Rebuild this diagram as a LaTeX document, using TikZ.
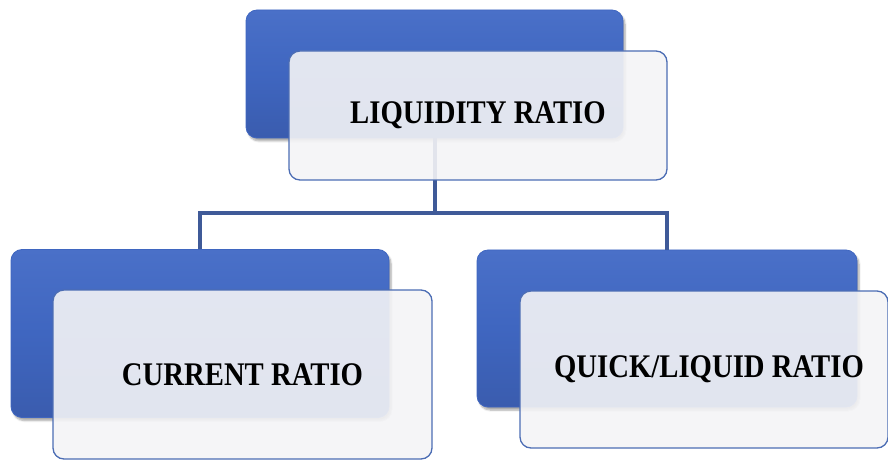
\documentclass[tikz,border=0pt]{standalone}
\usepackage{fontspec}
\setmainfont{Liberation Serif}
\usetikzlibrary{shadows.blur}
\definecolor{blueA}{HTML}{4A70C8}
\definecolor{blueB}{HTML}{3F66C0}
\definecolor{blueC}{HTML}{3A5CAE}
\definecolor{lineC}{HTML}{3F5A98}
\definecolor{lightF}{HTML}{F4F4F6}
\definecolor{lightD}{HTML}{4C6DB4}
\tikzset{
  bluebox/.style={rectangle, rounded corners=11pt, top color=blueA, bottom color=blueC, middle color=blueB, draw=blueB, line width=0.8pt, blur shadow={shadow xshift=2pt, shadow yshift=-3pt, shadow blur steps=6, shadow opacity=35}, inner sep=0pt},
  lightbox/.style={rectangle, rounded corners=11pt, fill=lightF, fill opacity=0.9, text opacity=1, draw=lightD, line width=1.3pt, inner sep=0pt, font=\bfseries\fontsize{33}{38}\selectfont},
  conn/.style={draw=lineC, line width=4pt}
}
\newcommand{\sq}[1]{\scalebox{0.87}[1]{#1}}
\begin{document}
\begin{tikzpicture}[x=1pt,y=-1pt]
\useasboundingbox (0,0) rectangle (888,462);
% blue back boxes
\node[bluebox, minimum width=377pt, minimum height=128pt] (pb) at (434.5,74) {};
\node[bluebox, minimum width=378pt, minimum height=168pt] (lb) at (200,333.5) {};
\node[bluebox, minimum width=380pt, minimum height=157pt] (rb) at (667,328.5) {};
% connectors
\coordinate (mid) at (434.5,213);
\draw[conn] (pb.south) -- (mid);
\draw[conn] (lb.north) |- (mid) -| (rb.north);
% light boxes
\node[lightbox, minimum width=378pt, minimum height=129pt] (pl) at (478,115.5) {\raisebox{-2pt}{\sq{LIQUIDITY RATIO}}};
\node[lightbox, minimum width=379pt, minimum height=169pt] (ll) at (242.5,374.5) {\sq{CURRENT RATIO}};
\node[lightbox, minimum width=368pt, minimum height=157pt] (rl) at (704,369.5) {\hspace*{10pt}\sq{QUICK/LIQUID RATIO}};
\end{tikzpicture}
\end{document}
